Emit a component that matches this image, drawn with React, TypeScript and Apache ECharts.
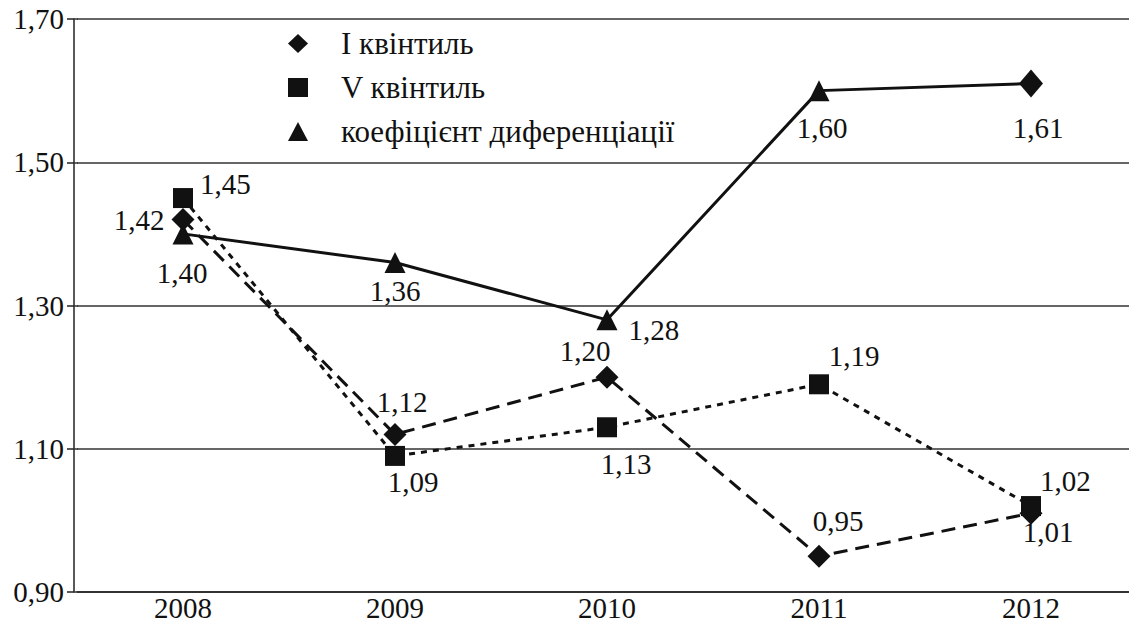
import React, { useEffect, useRef } from "react";
import * as echarts from "echarts";

const years = ["2008", "2009", "2010", "2011", "2012"];
const quintile1 = [1.42, 1.12, 1.2, 0.95, 1.01];
const quintile5 = [1.45, 1.09, 1.13, 1.19, 1.02];
const coefficient = [1.4, 1.36, 1.28, 1.6, 1.61];
const seriesNames = ["І квінтиль", "V квінтиль", "коефіцієнт диференціації"];
const yTicks = [0.9, 1.1, 1.3, 1.5, 1.7];

// label placement per point (style only)
const q1Labels = [
  { position: "left", offset: [-1, 0] },
  { position: "top", offset: [7, 0] },
  { position: "top", offset: [-22, 6] },
  { position: "top", offset: [19, -3] },
  { position: "bottom", offset: [17, -13] },
];
const q5Labels = [
  { position: "right", offset: [1, -14] },
  { position: "bottom", offset: [18, -4] },
  { position: "bottom", offset: [19, 6] },
  { position: "top", offset: [35, 2] },
  { position: "right", offset: [-7, -25] },
];
const coefLabels = [
  { position: "bottom", offset: [-1, 8] },
  { position: "bottom", offset: [0, -3] },
  { position: "right", offset: [5, 10] },
  { position: "bottom", offset: [3, 6] },
  { position: "bottom", offset: [7, 10] },
];
// the last point of the coefficient series is drawn as a diamond in the source
const coefSymbols = ["triangle", "triangle", "triangle", "triangle", "diamond"];
const coefSymbolSizes: any[] = [21, 21, 21, 21, [24, 28]];

const FONT = "Liberation Serif";
const fmt = (v: number) => v.toFixed(2).replace(".", ",");

function build(values: number[], labels: any[], symbols?: string[], sizes?: any[]) {
  return values.map((v, i) => {
    const item: any = {
      value: v,
      label: { position: labels[i].position, offset: labels[i].offset },
    };
    if (symbols) item.symbol = symbols[i];
    if (sizes) item.symbolSize = sizes[i];
    return item;
  });
}

export default function App() {
  const ref = useRef<HTMLDivElement>(null);
  useEffect(() => {
    if (!ref.current) return;
    const chart = echarts.init(ref.current, undefined, { renderer: "svg" });
    const labelCommon = {
      show: true,
      fontFamily: FONT,
      fontSize: 29,
      color: "#111",
      distance: 6,
      formatter: (p: any) => fmt(p.value),
    };
    const yBase = {
      type: "value",
      min: yTicks[0],
      max: yTicks[yTicks.length - 1],
      interval: 0.2,
      position: "left",
      offset: 3,
    };
    chart.setOption({
      animation: false,
      backgroundColor: "#fff",
      grid: { left: 77, width: 1068, top: 19, bottom: 34, containLabel: false },
      legend: {
        orient: "vertical",
        left: 283,
        top: 23,
        itemWidth: 20,
        itemHeight: 19,
        itemGap: 13,
        textStyle: { fontFamily: FONT, fontSize: 31, color: "#111", padding: [0, 0, 0, 28] },
        data: [
          { name: seriesNames[0], icon: "diamond" },
          { name: seriesNames[1], icon: "rect" },
          { name: seriesNames[2], icon: "triangle" },
        ],
      },
      xAxis: {
        type: "category",
        data: years,
        boundaryGap: true,
        axisLine: { lineStyle: { color: "#222", width: 1.5 } },
        axisTick: { show: false },
        axisLabel: { fontFamily: FONT, fontSize: 29, color: "#111", margin: 1 },
        splitLine: { show: false },
      },
      yAxis: [
        {
          ...yBase,
          axisLine: { show: true, lineStyle: { color: "#222", width: 1.5 } },
          axisTick: { show: true, inside: false, length: 7, lineStyle: { color: "#222", width: 1.5 } },
          axisLabel: {
            fontFamily: FONT,
            fontSize: 29,
            color: "#111",
            margin: 10,
            padding: [4, 0, 0, 0],
            formatter: (v: number) => fmt(v),
          },
          splitLine: { show: true, lineStyle: { color: "#333", width: 1.5 } },
        },
        {
          ...yBase,
          axisLine: { show: false },
          axisTick: { show: true, inside: true, length: 4, lineStyle: { color: "#333", width: 1.5 } },
          axisLabel: { show: false },
          splitLine: { show: false },
        },
      ],
      series: [
        {
          name: seriesNames[0],
          type: "line",
          data: build(quintile1, q1Labels),
          symbol: "diamond",
          symbolSize: 23,
          itemStyle: { color: "#111" },
          lineStyle: { color: "#111", width: 3, type: [14, 8] },
          label: labelCommon,
          z: 3,
        },
        {
          name: seriesNames[1],
          type: "line",
          data: build(quintile5, q5Labels),
          symbol: "rect",
          symbolSize: 20,
          itemStyle: { color: "#111" },
          lineStyle: { color: "#111", width: 3, type: [6, 6] },
          label: labelCommon,
          z: 2,
        },
        {
          name: seriesNames[2],
          type: "line",
          data: build(coefficient, coefLabels, coefSymbols, coefSymbolSizes),
          symbol: "triangle",
          symbolSize: 21,
          itemStyle: { color: "#111" },
          lineStyle: { color: "#111", width: 3, type: "solid" },
          label: labelCommon,
          z: 4,
        },
      ],
    });
    return () => chart.dispose();
  }, []);
  return <div ref={ref} style={{ width: 1137, height: 626, margin: -8 }} />;
}
